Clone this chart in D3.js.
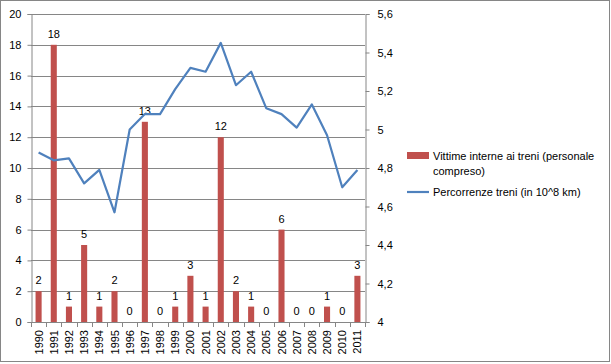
<!DOCTYPE html>
<html>
<head>
<meta charset="utf-8">
<script src="https://cdn.jsdelivr.net/npm/d3@7"></script>
<style>
body{margin:0;background:#fff;}
text{font-family:"Liberation Sans",Arial,sans-serif;}
</style>
</head>
<body>
<div id="chart"></div>
<script>
// data
var years = ["1990","1991","1992","1993","1994","1995","1996","1997","1998","1999","2000",
  "2001","2002","2003","2004","2005","2006","2007","2008","2009","2010","2011"];
var vittime = [2,18,1,5,1,2,0,13,0,1,3,1,12,2,1,0,6,0,0,1,0,3];
var percorrenze = [4.88,4.84,4.85,4.72,4.79,4.57,5.00,5.08,5.08,5.21,5.32,
  5.30,5.45,5.23,5.30,5.11,5.08,5.01,5.13,4.97,4.70,4.79];
var leftTicks = [0,2,4,6,8,10,12,14,16,18,20];
var rightTicks = [4,4.2,4.4,4.6,4.8,5,5.2,5.4,5.6];
var legendLabels = [["Vittime interne ai treni (personale","compreso)"],["Percorrenze treni (in 10^8 km)"]];

var w=611, h=364;
// plot area (don't name it "top", clashes with window.top)
var pL=31, pR=365, pT=14, pB=322;
var red="#C0504D", blue="#4F81BD", grid="#868686";

var svg=d3.select('#chart')
.append("svg")
.attr("width", w)
.attr("height", h);

// outer border
svg.append("rect")
.attr("x",0.5).attr("y",0.5)
.attr("width",w-2).attr("height",h-3)
.attr("fill","none").attr("stroke",grid);

var x=d3.scaleBand().domain(years).range([pL,pR]).paddingInner(0.6).paddingOuter(0.3);
var xb=d3.scaleBand().domain(years).range([pL,pR]);
var y=d3.scaleLinear().domain([0,20]).range([pB,pT]);
var y2=d3.scaleLinear().domain([4,5.6]).range([pB,pT]);

// gridlines
svg.append("g").selectAll("line").data(leftTicks.slice(1)).join("line")
.attr("x1",pL).attr("x2",pR)
.attr("y1",d=>Math.round(y(d))+0.5).attr("y2",d=>Math.round(y(d))+0.5)
.attr("stroke",grid);

// left axis
var yAxis=svg.append("g").attr("transform","translate("+(pL+0.5)+",0)")
.call(d3.axisLeft(y).tickValues(leftTicks).tickSize(4).tickPadding(6).tickFormat(d3.format("d")));
yAxis.select(".domain").attr("stroke",grid);
yAxis.selectAll(".tick line").attr("stroke",grid);
yAxis.selectAll("text").attr("font-size",11).attr("fill","#000");

// right axis
var y2Axis=svg.append("g").attr("transform","translate("+(pR+0.5)+",0)")
.call(d3.axisRight(y2).tickValues(rightTicks).tickSize(4).tickPadding(8)
  .tickFormat(d=>d3.format("~g")(d).replace(".",",")));
y2Axis.select(".domain").attr("stroke",grid);
y2Axis.selectAll(".tick line").attr("stroke",grid);
y2Axis.selectAll("text").attr("font-size",11).attr("fill","#000");

// bottom axis line + ticks at band boundaries
svg.append("line").attr("x1",pL).attr("x2",pR)
.attr("y1",pB+0.5).attr("y2",pB+0.5).attr("stroke",grid);
svg.append("g").selectAll("line").data(years.concat(["end"])).join("line")
.attr("x1",(d,i)=>Math.round(pL+xb.step()*i)+0.5)
.attr("x2",(d,i)=>Math.round(pL+xb.step()*i)+0.5)
.attr("y1",pB).attr("y2",pB+5).attr("stroke",grid);

// year labels rotated
svg.append("g").selectAll("text").data(years).join("text")
.attr("transform",d=>"translate("+(xb(d)+xb.bandwidth()/2+4)+","+(pB+8)+") rotate(-90)")
.attr("text-anchor","end")
.attr("font-size",11)
.text(d=>d);

// bars
svg.append("g").selectAll("rect").data(vittime).join("rect")
.attr("x",(d,i)=>x(years[i]))
.attr("width",x.bandwidth())
.attr("y",d=>y(d))
.attr("height",d=>pB-y(d))
.attr("fill",red);

// bar labels
svg.append("g").selectAll("text").data(vittime).join("text")
.attr("x",(d,i)=>xb(years[i])+xb.bandwidth()/2)
.attr("y",d=>y(d)-7)
.attr("text-anchor","middle")
.attr("font-size",11)
.text(d=>d);

// line
var line=d3.line().x((d,i)=>xb(years[i])+xb.bandwidth()/2).y(d=>y2(d));
svg.append("path").datum(percorrenze)
.attr("d",line)
.attr("fill","none").attr("stroke",blue).attr("stroke-width",2.2)
.attr("stroke-linejoin","round");

// legend
var lg=svg.append("g");
lg.append("rect").attr("x",407).attr("y",152).attr("width",22).attr("height",7).attr("fill",red);
lg.append("line").attr("x1",407).attr("x2",429).attr("y1",192).attr("y2",192)
.attr("stroke",blue).attr("stroke-width",2.2);
lg.append("text").attr("x",433).attr("y",160).attr("font-size",11)
.selectAll("tspan").data(legendLabels[0]).join("tspan")
.attr("x",433).attr("dy",(d,i)=>i?15:0).text(d=>d);
lg.append("text").attr("x",433).attr("y",196).attr("font-size",11).text(legendLabels[1][0]);
</script>
</body>
</html>
